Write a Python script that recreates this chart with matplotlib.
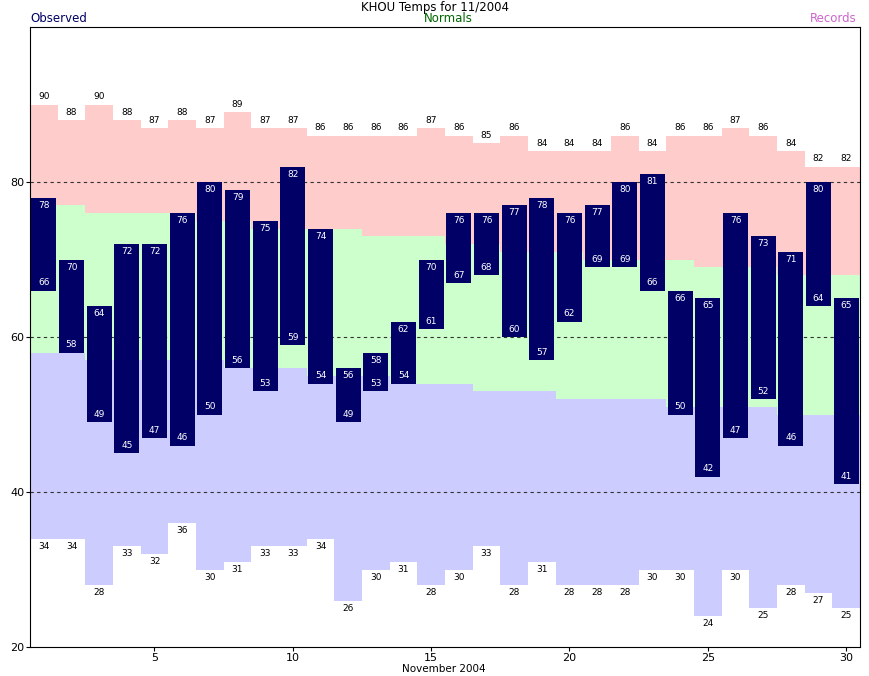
import matplotlib
matplotlib.use("Agg")
import matplotlib.pyplot as plt
import numpy as np

days = list(range(1, 31))
obs_high = [78,70,64,72,72,76,80,79,75,82,74,56,58,62,70,76,76,77,78,76,77,80,81,66,65,76,73,71,80,65]
obs_low = [66,58,49,45,47,46,50,56,53,59,54,49,53,54,61,67,68,60,57,62,69,69,66,50,42,47,52,46,64,41]
rec_high = [90,88,90,88,87,88,87,89,87,87,86,86,86,86,87,86,85,86,84,84,84,86,84,86,86,87,86,84,82,82]
rec_low = [34,34,28,33,32,36,30,31,33,33,34,26,30,31,28,30,33,28,31,28,28,28,30,30,24,30,25,28,27,25]
norm_high = [77,77,76,76,76,76,75,75,74,74,74,74,73,73,73,72,72,71,71,71,70,70,70,70,69,69,69,68,68,68]
norm_low = [58,58,57,57,57,57,57,56,56,56,55,55,55,54,54,54,53,53,53,52,52,52,52,51,51,51,51,50,50,50]

plt.rcParams['font.family'] = ['DejaVu Sans']
fig = plt.figure(figsize=(8.7, 6.76), dpi=100)
ax = fig.add_axes([30/870, 29/676, 830/870, 620/676])
x = np.array(days)
ax.bar(x, np.array(rec_high)-np.array(norm_high), bottom=norm_high, width=1.0, color='#ffcccc', linewidth=0)
ax.bar(x, np.array(norm_high)-np.array(norm_low), bottom=norm_low, width=1.0, color='#ccffcc', linewidth=0)
ax.bar(x, np.array(norm_low)-np.array(rec_low), bottom=rec_low, width=1.0, color='#ccccff', linewidth=0)
for yv in (40, 60, 80):
    ax.axhline(yv, color='#333333', ls=(0, (3, 3)), lw=0.8, zorder=2)
ax.bar(x, np.array(obs_high)-np.array(obs_low), bottom=obs_low, width=0.9, color='#000066', linewidth=0, zorder=3)
for d, h, l, rh, rl in zip(days, obs_high, obs_low, rec_high, rec_low):
    ax.text(d, h-0.4, str(h), color='white', fontsize=6.5, ha='center', va='top', zorder=4)
    ax.text(d, l+0.4, str(l), color='white', fontsize=6.5, ha='center', va='bottom', zorder=4)
    ax.text(d, rh+0.4, str(rh), color='black', fontsize=6.5, ha='center', va='bottom')
    ax.text(d, rl-0.4, str(rl), color='black', fontsize=6.5, ha='center', va='top')
ax.set_xlim(0.5, 30.5)
ax.set_ylim(20, 100)
ax.set_yticks([20, 40, 60, 80])
ax.set_xticks([5, 10, 15, 20, 25, 30])
ax.tick_params(labelsize=8, length=3, pad=1)
fig.text(444/870, 1 - 669/676, 'November 2004', ha='center', va='center', fontsize=7.5)
fig.text(0.5, 1 - 7/676, 'KHOU Temps for 11/2004', ha='center', va='center', fontsize=8.5)
fig.text(30/870, 1 - 19/676, 'Observed', ha='left', va='center', fontsize=8.5, color='#000066')
fig.text(448/870, 1 - 19/676, 'Normals', ha='center', va='center', fontsize=8.5, color='#006600')
fig.text(857/870, 1 - 19/676, 'Records', ha='right', va='center', fontsize=8.5, color='#cc66cc')
fig.savefig('out.png', dpi=100)
